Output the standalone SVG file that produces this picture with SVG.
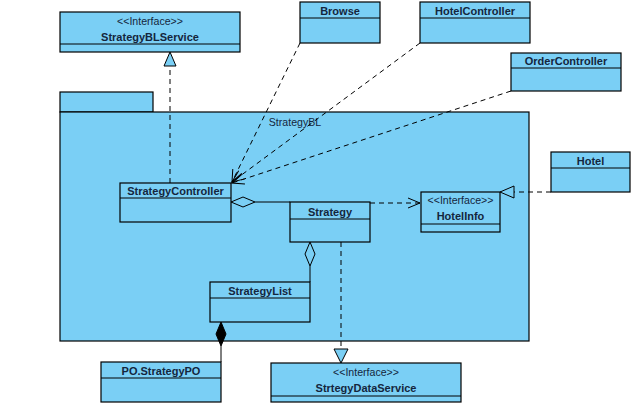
<svg xmlns="http://www.w3.org/2000/svg" width="642" height="416" viewBox="0 0 642 416">
<defs>
<style>
.box{fill:#7ACFF5;stroke:#000;stroke-width:1.2}
.ln{stroke:#000;stroke-width:1;fill:none}
.dash{stroke:#000;stroke-width:1;fill:none;stroke-dasharray:5,4}
.t{font-family:"Liberation Sans",Arial,sans-serif;font-size:11px;font-weight:bold;fill:#14263d;text-anchor:middle}
.s{font-family:"Liberation Sans",Arial,sans-serif;font-size:10.6px;fill:#14263d;text-anchor:middle}
</style>
<marker id="open" markerWidth="14" markerHeight="12" refX="13" refY="6" orient="auto" markerUnits="userSpaceOnUse">
<path d="M1,1 L13,6 L1,11" fill="none" stroke="#000" stroke-width="1"/>
</marker>
</defs>
<rect width="642" height="416" fill="#fff"/>
<g id="StrategyBL">
<rect class="box" x="60" y="92" width="93" height="20"/>
<rect class="box" x="60" y="112" width="469" height="229"/>
<text class="s" x="295" y="126">StrategyBL</text>
</g>
<g id="connectors">
<line class="dash" x1="170" y1="183" x2="170" y2="66"/>
<polygon points="170,52 164,66 176,66" fill="#7ACFF5" stroke="#000" stroke-width="1"/>
<line class="dash" x1="300" y1="43" x2="232" y2="182" marker-end="url(#open)"/>
<line class="dash" x1="420" y1="43" x2="232" y2="182" marker-end="url(#open)"/>
<line class="dash" x1="511" y1="91" x2="232" y2="183" marker-end="url(#open)"/>
<line class="ln" x1="255" y1="202" x2="290" y2="202"/>
<polygon points="231,202 243,197 255,202 243,207" fill="#7ACFF5" stroke="#000" stroke-width="1"/>
<line class="dash" x1="370" y1="203" x2="420" y2="203" marker-end="url(#open)"/>
<line class="dash" x1="551" y1="192" x2="514" y2="192"/>
<polygon points="500,192 514,186 514,198" fill="#7ACFF5" stroke="#000" stroke-width="1"/>
<line class="ln" x1="310" y1="266" x2="310" y2="282"/>
<polygon points="310,242 315,254 310,266 305,254" fill="#7ACFF5" stroke="#000" stroke-width="1"/>
<line class="ln" x1="221" y1="346" x2="221" y2="362"/>
<polygon points="221,322 226,334 221,346 216,334" fill="#000" stroke="#000" stroke-width="1"/>
<line class="dash" x1="341" y1="242" x2="341" y2="349"/>
<polygon points="341,363 334,349 348,349" fill="#7ACFF5" stroke="#000" stroke-width="1"/>
</g>
<g id="StrategyBLService">
<rect class="box" x="60" y="12" width="180" height="40"/>
<line class="ln" x1="60" y1="44" x2="240" y2="44"/>
<text class="s" x="150" y="25">&lt;&lt;Interface&gt;&gt;</text>
<text class="t" x="150" y="41">StrategyBLService</text>
</g>
<g id="Browse">
<rect class="box" x="300" y="2" width="80" height="41"/>
<line class="ln" x1="300" y1="18" x2="380" y2="18"/>
<text class="t" x="340" y="15">Browse</text>
</g>
<g id="HotelController">
<rect class="box" x="420" y="2" width="110" height="41"/>
<line class="ln" x1="420" y1="18" x2="530" y2="18"/>
<text class="t" x="475" y="15">HotelController</text>
</g>
<g id="OrderController">
<rect class="box" x="511" y="53" width="110" height="38"/>
<line class="ln" x1="511" y1="68" x2="621" y2="68"/>
<text class="t" x="566" y="65">OrderController</text>
</g>
<g id="StrategyController">
<rect class="box" x="120" y="183" width="111" height="39"/>
<line class="ln" x1="120" y1="198" x2="231" y2="198"/>
<text class="t" x="175.5" y="195">StrategyController</text>
</g>
<g id="Strategy">
<rect class="box" x="290" y="202" width="80" height="40"/>
<line class="ln" x1="290" y1="219" x2="370" y2="219"/>
<text class="t" x="330" y="216">Strategy</text>
</g>
<g id="HotelInfo">
<rect class="box" x="421" y="192" width="79" height="40"/>
<line class="ln" x1="421" y1="224" x2="500" y2="224"/>
<text class="s" x="460.5" y="204">&lt;&lt;Interface&gt;&gt;</text>
<text class="t" x="460.5" y="220">HotelInfo</text>
</g>
<g id="Hotel">
<rect class="box" x="551" y="152" width="79" height="40"/>
<line class="ln" x1="551" y1="168" x2="630" y2="168"/>
<text class="t" x="590.5" y="165">Hotel</text>
</g>
<g id="StrategyList">
<rect class="box" x="210" y="282" width="100" height="40"/>
<line class="ln" x1="210" y1="298" x2="310" y2="298"/>
<text class="t" x="260" y="295">StrategyList</text>
</g>
<g id="PO.StrategyPO">
<rect class="box" x="101" y="362" width="120" height="40"/>
<line class="ln" x1="101" y1="378" x2="221" y2="378"/>
<text class="t" x="161" y="375">PO.StrategyPO</text>
</g>
<g id="StrtegyDataService">
<rect class="box" x="271" y="363" width="190" height="39"/>
<line class="ln" x1="271" y1="396" x2="461" y2="396"/>
<text class="s" x="366" y="376">&lt;&lt;Interface&gt;&gt;</text>
<text class="t" x="366" y="392">StrtegyDataService</text>
</g>
</svg>
